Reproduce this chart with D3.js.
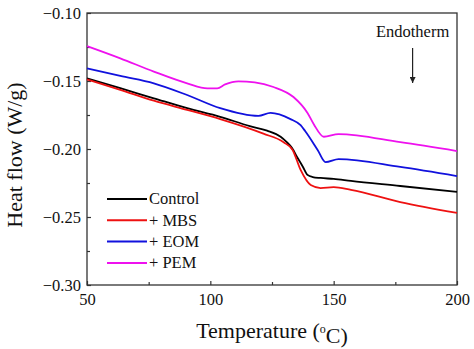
<!DOCTYPE html>
<html>
<head>
<meta charset="utf-8">
<script src="https://cdn.jsdelivr.net/npm/d3@7"></script>
<style>
  body { margin: 0; background: #fff; }
  svg text { font-family: "Liberation Serif", "Times New Roman", serif; fill: #111; }
  .axis text { font-size: 16.5px; }
  .axis line { stroke: #333; stroke-width: 1.2; }
  .axis path { display: none; }
</style>
</head>
<body>
<div id="chart"></div>
<script>
// series: [temperature, heat flow]
var control = [[50,-0.148],[63.5,-0.1553],[77.1,-0.1627],[90.6,-0.170],[104,-0.1763],[116,-0.1832],
  [123,-0.1865],[128.5,-0.191],[131,-0.1950],[133,-0.1990],[135.4,-0.2066],[137.5,-0.213],
  [139.4,-0.219],[141.5,-0.2206],[144.7,-0.2213],[150,-0.222],[157,-0.2235],[177,-0.2272],[200,-0.2316]];
var mbs = [[50,-0.1488],[63.5,-0.1565],[77.1,-0.1645],[90.6,-0.1712],[104,-0.178],[121.5,-0.1887],
  [129.7,-0.1950],[133.3,-0.2005],[136.6,-0.2154],[140.7,-0.2265],[144.7,-0.2287],[150,-0.228],
  [157,-0.230],[177,-0.239],[200,-0.247]];
var eom = [[50,-0.1407],[63.5,-0.1463],[77.1,-0.1517],[90.6,-0.1603],[104,-0.1700],[119.5,-0.1757],[124.4,-0.1735],
  [132.5,-0.178],[136.6,-0.1825],[138.5,-0.187],[143.5,-0.2007],[146.7,-0.2096],[152,-0.2074],
  [177,-0.2132],[200,-0.2199]];
var pem = [[50,-0.1243],[63.5,-0.1333],[77.1,-0.1431],[90.6,-0.1517],[98.8,-0.1554],[102.8,-0.1554],
  [106,-0.1525],[111.4,-0.1503],[118,-0.151],[125.6,-0.1544],[133.7,-0.1618],[139.4,-0.1735],[142,-0.182],
  [146,-0.191],[152,-0.189],[177,-0.195],[200,-0.2015]];

var names = ["Control", "+ MBS", "+ EOM", "+ PEM"];
var colors = ["#000000", "#ee1111", "#1111dd", "#ee11ee"];
var series = [control, mbs, eom, pem];

var xTicks = [50, 100, 150, 200];
var xMinor = [75, 125, 175];
var yTicks = [-0.30, -0.25, -0.20, -0.15, -0.10];
var yMinor = [-0.275, -0.225, -0.175, -0.125];

var FONT = "'Liberation Serif', 'Times New Roman', serif";

var W = 474, H = 349;
var margin = {top: 13, right: 17, bottom: 64, left: 87};
var width = W - margin.left - margin.right;
var height = H - margin.top - margin.bottom;

var svg = d3.select("#chart").append("svg")
    .attr("width", W)
    .attr("height", H);

var g = svg.append("g")
    .attr("transform", "translate(" + margin.left + "," + margin.top + ")");

var x = d3.scaleLinear().domain([50, 200]).range([0, width]);
var y = d3.scaleLinear().domain([-0.30, -0.10]).range([height, 0]);

// axes, ticks pointing inward
g.append("g")
    .attr("class", "axis")
    .attr("transform", "translate(0," + height + ")")
    .call(d3.axisBottom(x).tickValues(xTicks).tickSizeInner(-4).tickSizeOuter(0).tickPadding(8));
g.append("g")
    .attr("class", "axis")
    .attr("transform", "translate(0," + height + ")")
    .call(d3.axisBottom(x).tickValues(xMinor).tickFormat("").tickSizeInner(-3).tickSizeOuter(0));

g.append("g")
    .attr("class", "axis")
    .call(d3.axisLeft(y).tickValues(yTicks).tickFormat(d3.format(".2f"))
      .tickSizeInner(-4).tickSizeOuter(0).tickPadding(6));
g.append("g")
    .attr("class", "axis")
    .call(d3.axisLeft(y).tickValues(yMinor).tickFormat("").tickSizeInner(-3).tickSizeOuter(0));

g.selectAll(".axis").attr("font-family", null);
g.selectAll(".axis text").style("font-family", FONT);

// frame
g.append("rect")
    .attr("width", width)
    .attr("height", height)
    .attr("fill", "none")
    .attr("stroke", "#333")
    .attr("stroke-width", 1.3);

var line = d3.line()
    .x(function(d) { return x(d[0]); })
    .y(function(d) { return y(d[1]); })
    .curve(d3.curveMonotoneX);

g.selectAll(".curve")
    .data(series)
  .enter().append("path")
    .attr("class", "curve")
    .attr("d", line)
    .attr("fill", "none")
    .attr("stroke", function(d, i) { return colors[i]; })
    .attr("stroke-width", 1.8);

/* legend */
var legend = g.append("g").attr("transform", "translate(20," + (height - 86) + ")");
var item = legend.selectAll("g")
    .data(names)
  .enter().append("g")
    .attr("transform", function(d, i) { return "translate(0," + (i * 21.3) + ")"; });
item.append("line")
    .attr("x1", 0).attr("x2", 40)
    .attr("stroke", function(d, i) { return colors[i]; })
    .attr("stroke-width", 2);
item.append("text")
    .attr("x", 42)
    .attr("dy", "0.33em")
    .style("font-family", FONT)
    .style("font-size", "16.5px")
    .text(function(d) { return d; });

// endotherm note
g.append("text")
    .attr("x", x(182))
    .attr("y", y(-0.1176))
    .attr("text-anchor", "middle")
    .style("font-family", FONT)
    .style("font-size", "16.5px")
    .text("Endotherm");
svg.append("defs").append("marker")
    .attr("id", "head")
    .attr("viewBox", "0 0 10 10")
    .attr("refX", 10).attr("refY", 5)
    .attr("markerWidth", 5).attr("markerHeight", 5)
    .attr("orient", "auto")
  .append("path")
    .attr("d", "M0,0L10,5L0,10z")
    .attr("fill", "#222");
g.append("line")
    .attr("x1", x(182)).attr("x2", x(182))
    .attr("y1", y(-0.1257)).attr("y2", y(-0.1515))
    .attr("stroke", "#222")
    .attr("stroke-width", 1.2)
    .attr("marker-end", "url(#head)");

// axis titles
var xt = svg.append("text")
    .attr("x", margin.left + width / 2)
    .attr("y", 338)
    .attr("text-anchor", "middle")
    .style("font-family", FONT)
    .style("font-size", "22px")
    .text("Temperature (");
xt.append("tspan").attr("dy", "-0.45em").style("font-size", "12px").text("o");
xt.append("tspan").attr("dy", "0.45em").text("C)");

svg.append("text")
    .attr("transform", "translate(22," + (margin.top + height / 2 + 6) + ") rotate(-90)")
    .attr("text-anchor", "middle")
    .style("font-family", FONT)
    .style("font-size", "22px")
    .text("Heat flow (W/g)");
</script>
</body>
</html>
